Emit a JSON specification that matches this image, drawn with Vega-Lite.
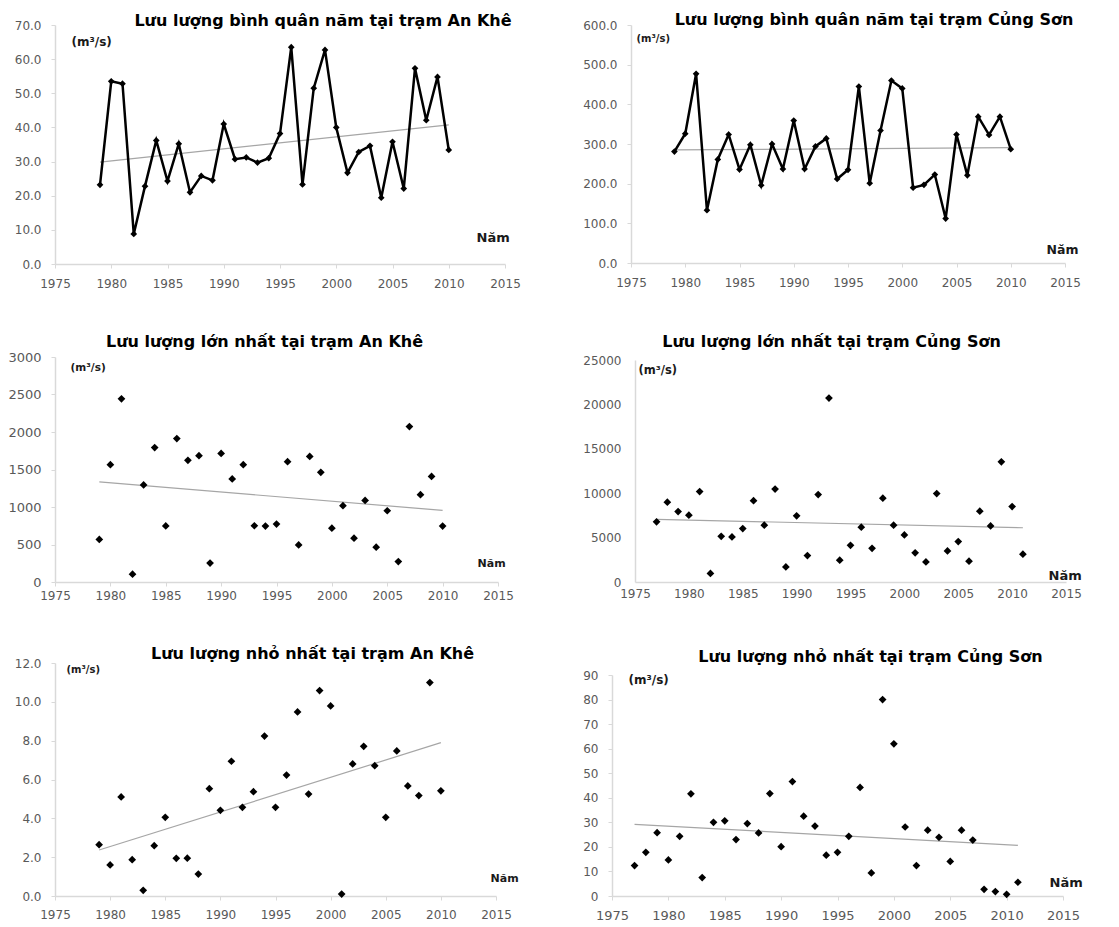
{
  "$schema": "https://vega.github.io/schema/vega-lite/v6.json",
  "padding": {"left": 7, "top": 12, "right": 0, "bottom": 0},
  "columns": 2,
  "align": "none",
  "spacing": {"row": 45, "column": 61},
  "datasets": {
    "ak_mean": [
      {"year": 1979, "value": 23.2}, {"year": 1980, "value": 53.5}, {"year": 1981, "value": 52.8}, {"year": 1982, "value": 8.8},
      {"year": 1983, "value": 22.8}, {"year": 1984, "value": 36.2}, {"year": 1985, "value": 24.3}, {"year": 1986, "value": 35.2},
      {"year": 1987, "value": 21.0}, {"year": 1988, "value": 25.8}, {"year": 1989, "value": 24.5}, {"year": 1990, "value": 41.0},
      {"year": 1991, "value": 30.7}, {"year": 1992, "value": 31.2}, {"year": 1993, "value": 29.7}, {"year": 1994, "value": 31.0},
      {"year": 1995, "value": 38.2}, {"year": 1996, "value": 63.5}, {"year": 1997, "value": 23.3}, {"year": 1998, "value": 51.5},
      {"year": 1999, "value": 62.7}, {"year": 2000, "value": 40.0}, {"year": 2001, "value": 26.7}, {"year": 2002, "value": 32.8},
      {"year": 2003, "value": 34.6}, {"year": 2004, "value": 19.4}, {"year": 2005, "value": 35.8}, {"year": 2006, "value": 22.1},
      {"year": 2007, "value": 57.3}, {"year": 2008, "value": 42.1}, {"year": 2009, "value": 54.8}, {"year": 2010, "value": 33.4}
    ],
    "cs_mean": [
      {"year": 1979, "value": 281}, {"year": 1980, "value": 326}, {"year": 1981, "value": 477}, {"year": 1982, "value": 133},
      {"year": 1983, "value": 261}, {"year": 1984, "value": 324}, {"year": 1985, "value": 236}, {"year": 1986, "value": 298},
      {"year": 1987, "value": 196}, {"year": 1988, "value": 300}, {"year": 1989, "value": 237}, {"year": 1990, "value": 359},
      {"year": 1991, "value": 237}, {"year": 1992, "value": 294}, {"year": 1993, "value": 314}, {"year": 1994, "value": 212},
      {"year": 1995, "value": 235}, {"year": 1996, "value": 445}, {"year": 1997, "value": 201}, {"year": 1998, "value": 334},
      {"year": 1999, "value": 460}, {"year": 2000, "value": 440}, {"year": 2001, "value": 190}, {"year": 2002, "value": 197},
      {"year": 2003, "value": 223}, {"year": 2004, "value": 112}, {"year": 2005, "value": 324}, {"year": 2006, "value": 221},
      {"year": 2007, "value": 369}, {"year": 2008, "value": 323}, {"year": 2009, "value": 369}, {"year": 2010, "value": 287}
    ],
    "ak_max": [
      {"year": 1979, "value": 567}, {"year": 1980, "value": 1565}, {"year": 1981, "value": 2442}, {"year": 1982, "value": 104},
      {"year": 1983, "value": 1295}, {"year": 1984, "value": 1793}, {"year": 1985, "value": 748}, {"year": 1986, "value": 1913},
      {"year": 1987, "value": 1623}, {"year": 1988, "value": 1685}, {"year": 1989, "value": 252}, {"year": 1990, "value": 1715},
      {"year": 1991, "value": 1375}, {"year": 1992, "value": 1565}, {"year": 1993, "value": 750}, {"year": 1994, "value": 746},
      {"year": 1995, "value": 772}, {"year": 1996, "value": 1605}, {"year": 1997, "value": 494}, {"year": 1998, "value": 1675},
      {"year": 1999, "value": 1463}, {"year": 2000, "value": 718}, {"year": 2001, "value": 1017}, {"year": 2002, "value": 584},
      {"year": 2003, "value": 1087}, {"year": 2004, "value": 464}, {"year": 2005, "value": 950}, {"year": 2006, "value": 273},
      {"year": 2007, "value": 2073}, {"year": 2008, "value": 1165}, {"year": 2009, "value": 1407}, {"year": 2010, "value": 746}
    ],
    "cs_max": [
      {"year": 1977, "value": 6780}, {"year": 1978, "value": 8990}, {"year": 1979, "value": 7930}, {"year": 1980, "value": 7520},
      {"year": 1981, "value": 10190}, {"year": 1982, "value": 960}, {"year": 1983, "value": 5140}, {"year": 1984, "value": 5080},
      {"year": 1985, "value": 6020}, {"year": 1986, "value": 9150}, {"year": 1987, "value": 6400}, {"year": 1988, "value": 10460},
      {"year": 1989, "value": 1700}, {"year": 1990, "value": 7450}, {"year": 1991, "value": 2980}, {"year": 1992, "value": 9850},
      {"year": 1993, "value": 20710}, {"year": 1994, "value": 2450}, {"year": 1995, "value": 4130}, {"year": 1996, "value": 6170},
      {"year": 1997, "value": 3800}, {"year": 1998, "value": 9440}, {"year": 1999, "value": 6400}, {"year": 2000, "value": 5300},
      {"year": 2001, "value": 3280}, {"year": 2002, "value": 2260}, {"year": 2003, "value": 9960}, {"year": 2004, "value": 3500},
      {"year": 2005, "value": 4560}, {"year": 2006, "value": 2340}, {"year": 2007, "value": 7970}, {"year": 2008, "value": 6320},
      {"year": 2009, "value": 13530}, {"year": 2010, "value": 8500}, {"year": 2011, "value": 3130}
    ],
    "ak_min": [
      {"year": 1979, "value": 2.64}, {"year": 1980, "value": 1.6}, {"year": 1981, "value": 5.1}, {"year": 1982, "value": 1.87},
      {"year": 1983, "value": 0.29}, {"year": 1984, "value": 2.59}, {"year": 1985, "value": 4.05}, {"year": 1986, "value": 1.94},
      {"year": 1987, "value": 1.95}, {"year": 1988, "value": 1.13}, {"year": 1989, "value": 5.53}, {"year": 1990, "value": 4.41},
      {"year": 1991, "value": 6.94}, {"year": 1992, "value": 4.57}, {"year": 1993, "value": 5.37}, {"year": 1994, "value": 8.24},
      {"year": 1995, "value": 4.57}, {"year": 1996, "value": 6.23}, {"year": 1997, "value": 9.48}, {"year": 1998, "value": 5.25},
      {"year": 1999, "value": 10.58}, {"year": 2000, "value": 9.79}, {"year": 2001, "value": 0.1}, {"year": 2002, "value": 6.8},
      {"year": 2003, "value": 7.71}, {"year": 2004, "value": 6.71}, {"year": 2005, "value": 4.05}, {"year": 2006, "value": 7.47},
      {"year": 2007, "value": 5.67}, {"year": 2008, "value": 5.17}, {"year": 2009, "value": 10.99}, {"year": 2010, "value": 5.42}
    ],
    "cs_min": [
      {"year": 1977, "value": 12.4}, {"year": 1978, "value": 17.8}, {"year": 1979, "value": 25.8}, {"year": 1980, "value": 14.7},
      {"year": 1981, "value": 24.3}, {"year": 1982, "value": 41.6}, {"year": 1983, "value": 7.5}, {"year": 1984, "value": 30.0},
      {"year": 1985, "value": 30.6}, {"year": 1986, "value": 23.0}, {"year": 1987, "value": 29.5}, {"year": 1988, "value": 25.7},
      {"year": 1989, "value": 41.7}, {"year": 1990, "value": 20.1}, {"year": 1991, "value": 46.6}, {"year": 1992, "value": 32.5},
      {"year": 1993, "value": 28.5}, {"year": 1994, "value": 16.6}, {"year": 1995, "value": 17.8}, {"year": 1996, "value": 24.3},
      {"year": 1997, "value": 44.2}, {"year": 1998, "value": 9.4}, {"year": 1999, "value": 80.0}, {"year": 2000, "value": 62.0},
      {"year": 2001, "value": 28.1}, {"year": 2002, "value": 12.4}, {"year": 2003, "value": 26.8}, {"year": 2004, "value": 23.9},
      {"year": 2005, "value": 14.1}, {"year": 2006, "value": 26.8}, {"year": 2007, "value": 22.8}, {"year": 2008, "value": 2.7},
      {"year": 2009, "value": 1.8}, {"year": 2010, "value": 0.7}, {"year": 2011, "value": 5.6}
    ]
  },
  "concat": [
    {
      "width": 450, "height": 239,
      "data": {"name": "ak_mean"},
      "title": {"text": "Lưu lượng bình quân năm tại trạm An Khê", "anchor": "middle", "dx": 43, "offset": -23, "baseline": "alphabetic"},
      "encoding": {
        "x": {"field": "year", "type": "quantitative", "scale": {"domain": [1975, 2015], "nice": false, "zero": false},
              "axis": {"values": [1975, 1980, 1985, 1990, 1995, 2000, 2005, 2010, 2015], "format": "d", "title": "Năm", "titleX": 421, "titleY": -27, "titleAlign": "left", "titleBaseline": "middle", "titleFontSize": 13, "labelPadding": 10}},
        "y": {"field": "value", "type": "quantitative", "scale": {"domain": [0, 70], "nice": false},
              "axis": {"values": [0, 10, 20, 30, 40, 50, 60, 70], "format": ".1f", "title": "(m³/s)", "titleX": 16, "titleY": 16, "titleAngle": 0, "titleAlign": "left", "titleBaseline": "middle", "titleFontSize": 12}}
      },
      "layer": [
        {"transform": [{"regression": "value", "on": "year"}], "mark": {"type": "line", "color": "#a6a6a6", "strokeWidth": 1.2}},
        {"mark": {"type": "line", "color": "#000000", "strokeWidth": 2.5, "point": {"shape": "diamond", "size": 45, "filled": true, "color": "#000000"}}}
      ]
    },
    {
      "width": 434, "height": 238,
      "data": {"name": "cs_mean"},
      "title": {"text": "Lưu lượng bình quân năm tại trạm Củng Sơn", "anchor": "middle", "dx": 26, "offset": -22, "baseline": "alphabetic"},
      "encoding": {
        "x": {"field": "year", "type": "quantitative", "scale": {"domain": [1975, 2015], "nice": false, "zero": false},
              "axis": {"values": [1975, 1980, 1985, 1990, 1995, 2000, 2005, 2010, 2015], "format": "d", "title": "Năm", "titleX": 415, "titleY": -14, "titleAlign": "left", "titleBaseline": "middle", "titleFontSize": 12.5, "labelPadding": 10}},
        "y": {"field": "value", "type": "quantitative", "scale": {"domain": [0, 600], "nice": false},
              "axis": {"values": [0, 100, 200, 300, 400, 500, 600], "format": ".1f", "title": "(m³/s)", "titleX": 5, "titleY": 13, "titleAngle": 0, "titleAlign": "left", "titleBaseline": "middle", "titleFontSize": 10}}
      },
      "layer": [
        {"transform": [{"regression": "value", "on": "year"}], "mark": {"type": "line", "color": "#a6a6a6", "strokeWidth": 1.2}},
        {"mark": {"type": "line", "color": "#000000", "strokeWidth": 2.5, "point": {"shape": "diamond", "size": 45, "filled": true, "color": "#000000"}}}
      ]
    },
    {
      "width": 443, "height": 225,
      "data": {"name": "ak_max"},
      "title": {"text": "Lưu lượng lớn nhất tại trạm An Khê", "anchor": "middle", "dx": -12, "offset": -12, "baseline": "alphabetic"},
      "encoding": {
        "x": {"field": "year", "type": "quantitative", "scale": {"domain": [1975, 2015], "nice": false, "zero": false},
              "axis": {"values": [1975, 1980, 1985, 1990, 1995, 2000, 2005, 2010, 2015], "format": "d", "title": "Năm", "titleX": 422, "titleY": -19, "titleAlign": "left", "titleBaseline": "middle", "titleFontSize": 11, "labelPadding": 4}},
        "y": {"field": "value", "type": "quantitative", "scale": {"domain": [0, 3000], "nice": false},
              "axis": {"values": [0, 500, 1000, 1500, 2000, 2500, 3000], "format": "d", "title": "(m³/s)", "titleX": 15, "titleY": 10, "titleAngle": 0, "titleAlign": "left", "titleBaseline": "middle", "titleFontSize": 10.5, "labelFontSize": 13}}
      },
      "layer": [
        {"transform": [{"regression": "value", "on": "year"}], "mark": {"type": "line", "color": "#a6a6a6", "strokeWidth": 1.2}},
        {"mark": {"type": "point", "shape": "diamond", "size": 60, "filled": true, "color": "#000000", "opacity": 1}}
      ]
    },
    {
      "width": 431, "height": 222,
      "data": {"name": "cs_max"},
      "title": {"text": "Lưu lượng lớn nhất tại trạm Củng Sơn", "anchor": "middle", "dx": -19, "offset": -9, "baseline": "alphabetic"},
      "encoding": {
        "x": {"field": "year", "type": "quantitative", "scale": {"domain": [1975, 2015], "nice": false, "zero": false},
              "axis": {"values": [1975, 1980, 1985, 1990, 1995, 2000, 2005, 2010, 2015], "format": "d", "title": "Năm", "titleX": 413, "titleY": -7, "titleAlign": "left", "titleBaseline": "middle", "titleFontSize": 13, "ticks": false, "labelPadding": 6}},
        "y": {"field": "value", "type": "quantitative", "scale": {"domain": [0, 25000], "nice": false},
              "axis": {"values": [0, 5000, 10000, 15000, 20000, 25000], "format": "d", "title": "(m³/s)", "titleX": 3, "titleY": 10, "titleAngle": 0, "titleAlign": "left", "titleBaseline": "middle", "titleFontSize": 11.5, "ticks": false, "labelPadding": 14}}
      },
      "layer": [
        {"transform": [{"regression": "value", "on": "year"}], "mark": {"type": "line", "color": "#a6a6a6", "strokeWidth": 1.2}},
        {"mark": {"type": "point", "shape": "diamond", "size": 60, "filled": true, "color": "#000000", "opacity": 1}}
      ]
    },
    {
      "width": 441, "height": 233,
      "data": {"name": "ak_min"},
      "title": {"text": "Lưu lượng nhỏ nhất tại trạm An Khê", "anchor": "middle", "dx": 37, "offset": -18, "baseline": "alphabetic"},
      "encoding": {
        "x": {"field": "year", "type": "quantitative", "scale": {"domain": [1975, 2015], "nice": false, "zero": false},
              "axis": {"values": [1975, 1980, 1985, 1990, 1995, 2000, 2005, 2010, 2015], "format": "d", "title": "Năm", "titleX": 435, "titleY": -18, "titleAlign": "left", "titleBaseline": "middle", "titleFontSize": 11, "labelPadding": 9}},
        "y": {"field": "value", "type": "quantitative", "scale": {"domain": [0, 12], "nice": false},
              "axis": {"values": [0, 2, 4, 6, 8, 10, 12], "format": ".1f", "title": "(m³/s)", "titleX": 11, "titleY": 6, "titleAngle": 0, "titleAlign": "left", "titleBaseline": "middle", "titleFontSize": 10}}
      },
      "layer": [
        {"transform": [{"regression": "value", "on": "year"}], "mark": {"type": "line", "color": "#a6a6a6", "strokeWidth": 1.2}},
        {"mark": {"type": "point", "shape": "diamond", "size": 60, "filled": true, "color": "#000000", "opacity": 1}}
      ]
    },
    {
      "width": 451, "height": 221,
      "data": {"name": "cs_min"},
      "title": {"text": "Lưu lượng nhỏ nhất tại trạm Củng Sơn", "anchor": "middle", "dx": 33, "offset": -9, "baseline": "alphabetic"},
      "encoding": {
        "x": {"field": "year", "type": "quantitative", "scale": {"domain": [1975, 2015], "nice": false, "zero": false},
              "axis": {"values": [1975, 1980, 1985, 1990, 1995, 2000, 2005, 2010, 2015], "format": "d", "title": "Năm", "titleX": 437, "titleY": -14, "titleAlign": "left", "titleBaseline": "middle", "titleFontSize": 13, "labelFontSize": 13, "labelPadding": 9}},
        "y": {"field": "value", "type": "quantitative", "scale": {"domain": [0, 90], "nice": false},
              "axis": {"values": [0, 10, 20, 30, 40, 50, 60, 70, 80, 90], "format": "d", "title": "(m³/s)", "titleX": 16, "titleY": 4, "titleAngle": 0, "titleAlign": "left", "titleBaseline": "middle", "titleFontSize": 12}}
      },
      "layer": [
        {"transform": [{"regression": "value", "on": "year"}], "mark": {"type": "line", "color": "#a6a6a6", "strokeWidth": 1.2}},
        {"mark": {"type": "point", "shape": "diamond", "size": 60, "filled": true, "color": "#000000", "opacity": 1}}
      ]
    }
  ],
  "config": {
    "view": {"stroke": null},
    "title": {"font": "DejaVu Sans", "fontSize": 16, "fontWeight": "bold", "color": "#000000"},
    "axis": {
      "grid": false,
      "domainColor": "#d9d9d9",
      "domainWidth": 1.5,
      "tickColor": "#d9d9d9",
      "tickSize": 4,
      "labelColor": "#595959",
      "labelFont": "DejaVu Sans",
      "labelFontSize": 12,
      "labelFlush": false,
      "labelOverlap": false,
      "titleFont": "DejaVu Sans",
      "titleFontWeight": "bold",
      "titleColor": "#1a1a1a"
    },
    "axisX": {"labelPadding": 8},
    "axisY": {"labelPadding": 10}
  }
}
